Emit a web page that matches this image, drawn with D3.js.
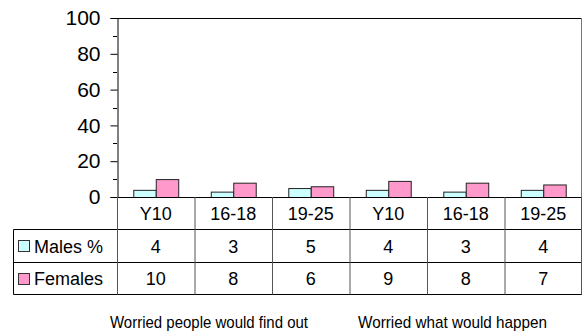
<!DOCTYPE html>
<html><head><meta charset="utf-8">
<script src="https://cdn.jsdelivr.net/npm/d3@7"></script>
<style>
html,body{margin:0;padding:0;background:#fff;}
svg{display:block;}
text{font-family:"Liberation Sans",Arial,Helvetica,sans-serif;fill:#000;}
</style></head>
<body>
<script>
const categories = ["Y10","16-18","19-25","Y10","16-18","19-25"];
const seriesNames = ["Males %","Females"];
const males = [4,3,5,4,3,4];
const females = [10,8,6,9,8,7];
const yTicks = [0,20,40,60,80,100];
const groupLabels = ["Worried people would find out","Worried what would happen"];

const W = 583, H = 333;
const svg = d3.select("body").append("svg").attr("width",W).attr("height",H);

const plotLeft = 117, plotRight = 582, plotTop = 18, zeroY = 197;
const x = d3.scaleBand().domain(d3.range(categories.length)).range([plotLeft,plotRight]).padding(0);
const bw = x.bandwidth();
const y = d3.scaleLinear().domain([0,100]).range([zeroY,plotTop]);
const inner = d3.scaleBand().domain(seriesNames).range([bw*0.21, bw*0.79]).padding(0);
const colors = {"Males %":"#ccffff","Females":"#ff99cc"};
const values = {"Males %":males,"Females":females};

// plot frame (top and right)
svg.append("line").attr("x1",plotLeft).attr("x2",plotRight).attr("y1",plotTop+0.5).attr("y2",plotTop+0.5).attr("stroke","#000");
svg.append("line").attr("x1",plotRight-0.5).attr("x2",plotRight-0.5).attr("y1",plotTop).attr("y2",zeroY).attr("stroke","#777");

// bars
seriesNames.forEach(s=>{
  svg.append("g").selectAll("rect").data(values[s]).join("rect")
    .attr("x",(d,i)=>x(i)+inner(s)+0.5)
    .attr("y",d=>y(d)+0.5)
    .attr("width",inner.bandwidth())
    .attr("height",d=>zeroY-y(d))
    .attr("fill",colors[s]).attr("stroke","#222").attr("stroke-width",1);
});

// y axis
const yAxis = d3.axisLeft(y).tickValues(yTicks).tickSize(7).tickPadding(10).tickFormat(d3.format("d"));
const ga = svg.append("g").attr("transform",`translate(${plotLeft+0.5},0)`).call(yAxis);
ga.select(".domain").attr("stroke","#000");
ga.selectAll(".tick line").attr("stroke","#000");
ga.selectAll(".tick text").attr("font-size",21).attr("font-family","Liberation Sans, Arial, sans-serif").attr("fill","#000");
// minor ticks
svg.append("g").selectAll("line").data(d3.range(10,100,20)).join("line")
  .attr("x1",plotLeft-4).attr("x2",plotLeft).attr("y1",d=>Math.round(y(d))+0.5).attr("y2",d=>Math.round(y(d))+0.5).attr("stroke","#000");

// table
const tableLeft = 13.5;
const rowY = [zeroY, 229.5, 262.5, 294.5];
const fs = 18;
svg.append("line").attr("x1",plotLeft-6).attr("x2",plotRight).attr("y1",zeroY+0.5).attr("y2",zeroY+0.5).attr("stroke","#000");
[1,2,3].forEach(r=>{
  svg.append("line").attr("x1",tableLeft).attr("x2",plotRight).attr("y1",rowY[r]).attr("y2",rowY[r]).attr("stroke","#000");
});
svg.append("line").attr("x1",tableLeft).attr("x2",tableLeft).attr("y1",rowY[1]).attr("y2",rowY[3]).attr("stroke","#000");
d3.range(categories.length+1).forEach(i=>{
  const xx = i<categories.length ? x(i)+0.5 : plotRight-0.5;
  svg.append("line").attr("x1",xx).attr("x2",xx).attr("y1",zeroY).attr("y2",rowY[3]).attr("stroke","#555");
});
svg.append("g").selectAll("text").data(categories).join("text")
  .attr("x",(d,i)=>x(i)+bw/2).attr("y",(rowY[0]+rowY[1])/2+6.5)
  .attr("text-anchor","middle").attr("font-size",fs).text(d=>d);
seriesNames.forEach((s,r)=>{
  const cy = (rowY[r+1]+rowY[r+2])/2;
  svg.append("g").selectAll("text").data(values[s]).join("text")
    .attr("x",(d,i)=>x(i)+bw/2).attr("y",cy+6.5)
    .attr("text-anchor","middle").attr("font-size",fs).text(d=>d);
  svg.append("rect").attr("x",18.5).attr("y",Math.round(cy)-5.5).attr("width",11).attr("height",11)
    .attr("fill",colors[s]).attr("stroke","#333");
  svg.append("text").attr("x",34).attr("y",cy+6.5).attr("font-size",fs).text(s);
});

// group labels
const gl = [{c:209, w:198},{c:452.5, w:189}];
svg.append("g").selectAll("text").data(groupLabels).join("text")
  .attr("x",(d,i)=>gl[i].c).attr("y",327.5).attr("text-anchor","middle")
  .attr("font-size",17).attr("textLength",(d,i)=>gl[i].w).attr("lengthAdjust","spacingAndGlyphs")
  .text(d=>d);
</script>
</body></html>
